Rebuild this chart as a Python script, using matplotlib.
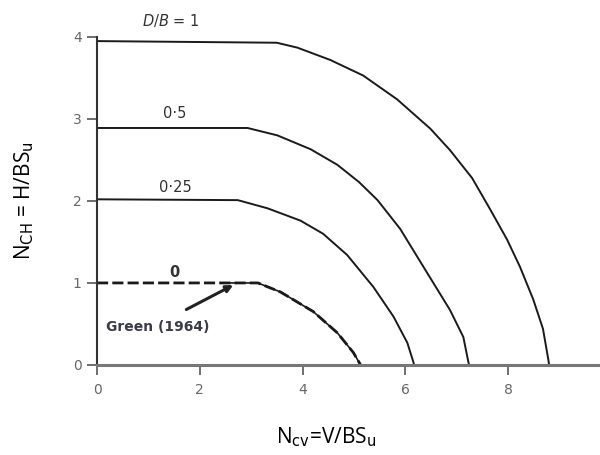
import matplotlib
matplotlib.use("Agg")
import matplotlib.pyplot as plt

# Data (N_cv, N_CH)
db1_x = [0.0, 3.5, 3.9, 4.54, 5.18, 5.84, 6.49, 6.87, 7.30, 7.65, 7.98, 8.23, 8.49, 8.68, 8.78, 8.80]
db1_y = [3.95, 3.93, 3.87, 3.72, 3.53, 3.24, 2.88, 2.62, 2.28, 1.90, 1.53, 1.20, 0.80, 0.44, 0.08, 0.0]

db05_x = [0.0, 2.93, 3.51, 4.16, 4.68, 5.10, 5.46, 5.90, 6.35, 6.87, 7.13, 7.22, 7.24]
db05_y = [2.89, 2.89, 2.80, 2.63, 2.44, 2.23, 2.01, 1.66, 1.20, 0.67, 0.34, 0.06, 0.0]

db025_x = [0.0, 2.74, 3.32, 3.96, 4.40, 4.87, 5.38, 5.77, 6.04, 6.16, 6.17]
db025_y = [2.02, 2.01, 1.91, 1.76, 1.60, 1.34, 0.95, 0.59, 0.27, 0.03, 0.0]

db0_x = [2.6, 3.13, 3.57, 4.21, 4.68, 4.99, 5.13]
db0_y = [1.0, 1.0, 0.89, 0.65, 0.39, 0.15, 0.0]

green_x = [0.0, 3.13, 3.57, 4.21, 4.68, 4.99, 5.13]
green_y = [1.0, 1.0, 0.89, 0.65, 0.39, 0.15, 0.0]

curve_labels = ["0·5", "0·25", "0"]
x_ticks = [0, 2, 4, 6, 8]
y_ticks = [0, 1, 2, 3, 4]

fig = plt.figure(figsize=(6.0, 4.55), dpi=100)
ax = fig.add_axes([0.1617, 0.198, 0.8383, 0.7207])

lc = "#1a1a1a"
ax.plot(db1_x, db1_y, color=lc, lw=1.4)
ax.plot(db05_x, db05_y, color=lc, lw=1.4)
ax.plot(db025_x, db025_y, color=lc, lw=1.4)
ax.plot(db0_x, db0_y, color=lc, lw=1.2)
ax.plot(green_x, green_y, color=lc, lw=2.0, ls=(0, (4, 1.5)))

ax.set_xlim(0, 9.79)
ax.set_ylim(0, 4)

for s in ["top", "right"]:
    ax.spines[s].set_visible(False)
ax.spines["left"].set_color("#333333")
ax.spines["left"].set_linewidth(1.5)
ax.spines["bottom"].set_color("#777777")
ax.spines["bottom"].set_linewidth(2.2)

ax.set_xticks(x_ticks)
ax.set_yticks(y_ticks)
ax.tick_params(axis="both", direction="out", length=7, width=1.2, color="#555555",
               labelsize=10, labelcolor="#666666")
ax.tick_params(axis="x", pad=6)
ax.tick_params(axis="y", pad=4)

# curve labels
ax.text(1.44, 4.2, "$\\it{D/B}$ = 1", ha="center", va="center", fontsize=10.5, color="#333333", clip_on=False)
ax.text(1.51, 3.07, curve_labels[0], ha="center", va="center", fontsize=10.5, color="#333333")
ax.text(1.53, 2.16, curve_labels[1], ha="center", va="center", fontsize=10.5, color="#333333")
ax.text(1.5, 1.13, curve_labels[2], ha="center", va="center", fontsize=10.5, color="#333333", fontweight="bold")

ax.annotate("", xy=(2.7, 0.99), xytext=(1.69, 0.66),
            arrowprops=dict(arrowstyle="-|>", color="#222222", lw=2.2, mutation_scale=10))
ax.text(0.17, 0.46, "Green (1964)", ha="left", va="center", fontsize=10, color="#3a3a4a", fontweight="bold")

fig.text(0.04, 0.56, "N$_{\\mathrm{CH}}$ = H/BS$_{\\mathrm{u}}$", rotation=90, ha="center", va="center",
         fontsize=15, family="Open Sans")
fig.text(0.543, 0.04, "N$_{\\mathrm{cv}}$=V/BS$_{\\mathrm{u}}$", ha="center", va="center",
         fontsize=15, family="Open Sans")

fig.savefig("out.png", dpi=100)
